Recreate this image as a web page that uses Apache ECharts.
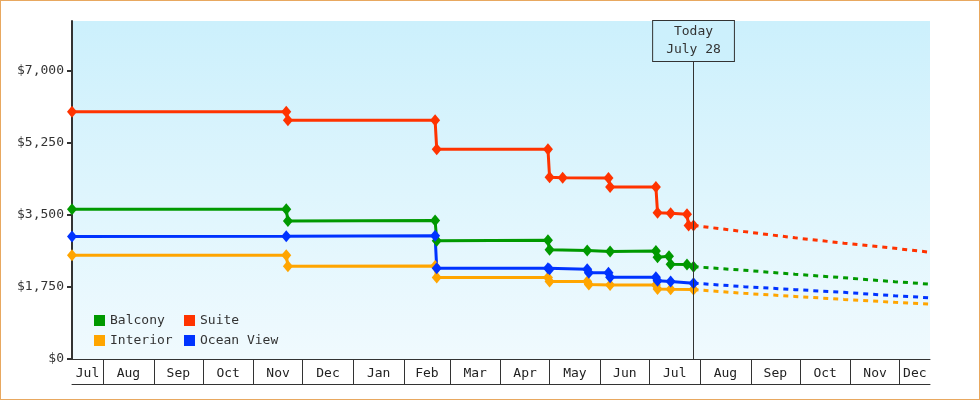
<!DOCTYPE html>
<html>
<head>
<meta charset="utf-8">
<script src="https://cdn.jsdelivr.net/npm/echarts@6/dist/echarts.min.js"></script>
<style>
  html, body { margin: 0; padding: 0; background: #fff; }
  #main { width: 980px; height: 400px; box-sizing: border-box; border: 1px solid #e8a860; }
</style>
</head>
<body>
<div id="main"></div>
<script>
var myChart = echarts.init(document.getElementById('main'));

// axis range and today
var startDate = '2013-07-13';
var endDate = '2014-12-19 14:00';
var todayDate = '2014-07-28';
var todayText = 'Today\nJuly 28';

var monthNames = ['Jan', 'Feb', 'Mar', 'Apr', 'May', 'Jun', 'Jul', 'Aug', 'Sep', 'Oct', 'Nov', 'Dec'];
var priceTicks = [0, 1750, 3500, 5250, 7000];

// price history: [date, price]
var balcony = [
    ['2013-07-13', 3630], ['2013-11-21', 3630], ['2013-11-22', 3350], ['2014-02-20', 3360],
    ['2014-02-21', 2870], ['2014-04-30', 2880], ['2014-05-01', 2650], ['2014-05-24', 2630],
    ['2014-06-07', 2610], ['2014-07-05', 2620], ['2014-07-06', 2470], ['2014-07-13', 2490],
    ['2014-07-14', 2300], ['2014-07-24', 2290], ['2014-07-28', 2240]
];
var suite = [
    ['2013-07-13', 6000], ['2013-11-21', 6000], ['2013-11-22', 5790], ['2014-02-20', 5790],
    ['2014-02-21', 5090], ['2014-04-30', 5090], ['2014-05-01', 4410], ['2014-05-09', 4400],
    ['2014-06-06', 4390], ['2014-06-07', 4170], ['2014-07-05', 4170], ['2014-07-06', 3550],
    ['2014-07-14', 3535], ['2014-07-24', 3510], ['2014-07-25', 3240], ['2014-07-28', 3240]
];
var interior = [
    ['2013-07-13', 2520], ['2013-11-21', 2520], ['2013-11-22', 2250], ['2014-02-20', 2255],
    ['2014-02-21', 1975], ['2014-04-30', 1980], ['2014-05-01', 1880], ['2014-05-24', 1880],
    ['2014-05-25', 1810], ['2014-06-07', 1795], ['2014-07-05', 1795], ['2014-07-06', 1700],
    ['2014-07-14', 1690], ['2014-07-28', 1685]
];
var oceanView = [
    ['2013-07-13', 2970], ['2013-11-21', 2980], ['2014-02-20', 2990], ['2014-02-21', 2200],
    ['2014-04-30', 2200], ['2014-05-01', 2180], ['2014-05-24', 2180], ['2014-05-25', 2090],
    ['2014-06-06', 2090], ['2014-06-07', 1985], ['2014-07-05', 1985], ['2014-07-06', 1900],
    ['2014-07-14', 1880], ['2014-07-28', 1840]
];

// forecast (dashed)
var balconyForecast = [
    ['2014-07-28', 2240], ['2014-08-28', 2153], ['2014-09-28', 2057], ['2014-10-28', 1970],
    ['2014-11-28', 1876], ['2014-12-19 14:00', 1815]
];
var suiteForecast = [
    ['2014-07-28', 3240], ['2014-08-28', 3090], ['2014-09-28', 2940], ['2014-10-28', 2810],
    ['2014-11-28', 2685], ['2014-12-19 14:00', 2590]
];
var interiorForecast = [
    ['2014-07-28', 1685], ['2014-08-28', 1593], ['2014-09-28', 1518], ['2014-10-28', 1446],
    ['2014-11-28', 1376], ['2014-12-19 14:00', 1332]
];
var oceanViewForecast = [
    ['2014-07-28', 1840], ['2014-08-28', 1755], ['2014-09-28', 1683], ['2014-10-28', 1617],
    ['2014-11-28', 1533], ['2014-12-19 14:00', 1485]
];

var colors = {
    'Balcony': '#009900',
    'Suite': '#ff3300',
    'Interior': '#ffa500',
    'Ocean View': '#0033ff'
};

var font = '"DejaVu Sans Mono", monospace';

var toTime = function (s) {
    return echarts.time.parse(s).getTime();
};
var toPoints = function (rows) {
    return rows.map(function (r) { return [toTime(r[0]), r[1]]; });
};

// month boundaries (cell borders) and cell middles (labels)
var t0 = toTime(startDate);
var t1 = toTime(endDate);
var monthStarts = [];
var monthMids = [];
var d = new Date(t0);
var cur = new Date(d.getFullYear(), d.getMonth(), 1);
while (cur.getTime() < t1) {
    var next = new Date(cur.getFullYear(), cur.getMonth() + 1, 1);
    var a = Math.max(cur.getTime(), t0);
    var b = Math.min(next.getTime(), t1);
    monthMids.push((a + b) / 2);
    if (cur.getTime() > t0) monthStarts.push(cur.getTime());
    cur = next;
}

var historySeries = function (name, data) {
    return {
        name: name,
        type: 'line',
        data: toPoints(data),
        color: colors[name],
        symbol: 'diamond',
        symbolSize: [10, 12],
        showSymbol: true,
        lineStyle: { width: 3 },
        z: 3
    };
};
var forecastSeries = function (name, data) {
    return {
        name: name,
        type: 'line',
        data: toPoints(data),
        color: colors[name],
        showSymbol: false,
        lineStyle: { width: 3, type: [5, 5] },
        z: 2
    };
};

var series = [
    historySeries('Balcony', balcony),
    historySeries('Suite', suite),
    historySeries('Interior', interior),
    historySeries('Ocean View', oceanView),
    forecastSeries('Balcony', balconyForecast),
    forecastSeries('Suite', suiteForecast),
    forecastSeries('Interior', interiorForecast),
    forecastSeries('Ocean View', oceanViewForecast)
];

// today marker
series[0].markLine = {
    silent: true,
    symbol: ['none', 'none'],
    animation: false,
    lineStyle: { color: '#333', width: 1, type: 'solid' },
    label: {
        show: true,
        position: 'end',
        distance: -40,
        formatter: todayText,
        color: '#333',
        fontFamily: font,
        fontSize: 13,
        lineHeight: 18,
        align: 'center',
        padding: [2, 13, 2, 13],
        backgroundColor: '#ccf0fc',
        borderColor: '#333',
        borderWidth: 1
    },
    data: [{ xAxis: toTime(todayDate) }]
};

var legendCommon = {
    orient: 'vertical',
    icon: 'rect',
    padding: 0,
    itemWidth: 11,
    itemHeight: 11,
    itemGap: 7,
    textStyle: { fontFamily: font, fontSize: 13, color: '#333', lineHeight: 11 }
};

var option = {
    animation: false,
    grid: {
        left: 71,
        right: 49,
        top: 20,
        bottom: 40,
        show: true,
        borderWidth: 0,
        backgroundColor: new echarts.graphic.LinearGradient(0, 0, 0, 1, [
            { offset: 0, color: '#ccf0fc' },
            { offset: 1, color: '#f0fafe' }
        ])
    },
    legend: [
        Object.assign({ left: 93, top: 313, data: ['Balcony', 'Interior'] }, legendCommon),
        Object.assign({ left: 183, top: 313, data: ['Suite', 'Ocean View'] }, legendCommon)
    ],
    xAxis: [
        {
            type: 'value',
            min: t0,
            max: t1,
            axisLine: { lineStyle: { color: '#333', width: 1 } },
            axisTick: { show: true, customValues: monthStarts, length: 25, lineStyle: { color: '#333', width: 1 } },
            axisLabel: {
                customValues: monthMids,
                formatter: function (value) {
                    return monthNames[new Date(value).getMonth()];
                },
                margin: 8,
                color: '#222',
                fontFamily: font,
                fontSize: 13
            },
            splitLine: { show: false }
        },
        {
            type: 'value',
            position: 'bottom',
            offset: 25,
            min: t0,
            max: t1,
            axisLine: { show: true, lineStyle: { color: '#333', width: 1 } },
            axisTick: { show: false },
            axisLabel: { show: false },
            splitLine: { show: false }
        }
    ],
    yAxis: {
        type: 'value',
        min: 0,
        max: 8200,
        interval: 1750,
        axisLine: { show: true, lineStyle: { color: '#333', width: 2 } },
        axisTick: { show: true, customValues: priceTicks, length: 5, lineStyle: { color: '#333', width: 2 } },
        axisLabel: {
            customValues: priceTicks,
            formatter: function (value) {
                return '$' + value.toLocaleString('en-US');
            },
            margin: 8,
            color: '#333',
            fontFamily: font,
            fontSize: 13
        },
        splitLine: { show: false }
    },
    series: series
};

myChart.setOption(option);
</script>
</body>
</html>
